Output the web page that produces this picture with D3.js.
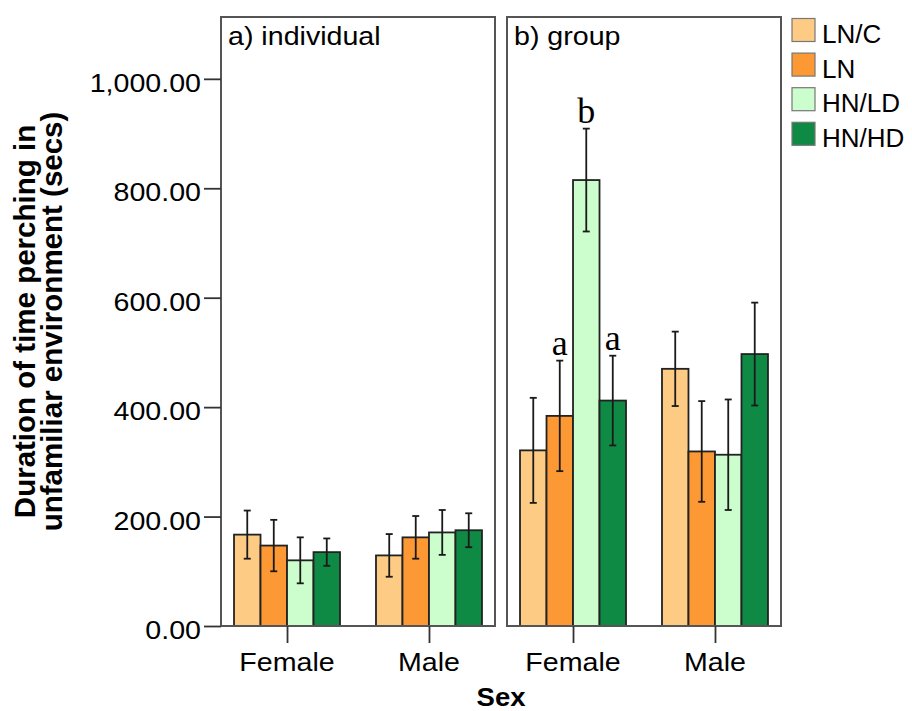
<!DOCTYPE html>
<html>
<head>
<meta charset="utf-8">
<script src="https://cdn.jsdelivr.net/npm/d3@7"></script>
<style>
  html, body { margin: 0; padding: 0; background: #fff; }
  svg { display: block; }
</style>
</head>
<body>
<svg id="chart" width="912" height="711"></svg>
<script>
// ---- data ----
const panels = ["a) individual", "b) group"];
const sexes = ["Female", "Male"];
const treatments = ["LN/C", "LN", "HN/LD", "HN/HD"];
const colors = ["#FECB84", "#FD9935", "#CCFDCC", "#0F8A45"];
const yTicks = [0, 200, 400, 600, 800, 1000];

// mean duration per panel -> sex -> treatment
const individualMeans = [[167, 147, 120, 135], [129, 162, 171, 175]];
const individualErr   = [[44, 47, 42, 25], [39, 39, 41, 31]];
const groupMeans      = [[321, 384, 815, 412], [470, 319, 313, 497]];
const groupErr        = [[96, 101, 94, 82], [68, 92, 101, 94]];

// significance letters (group panel, female)
const letters = [
  { panel: 1, sex: 0, treatment: 1, label: "a" },
  { panel: 1, sex: 0, treatment: 2, label: "b" },
  { panel: 1, sex: 0, treatment: 3, label: "a" }
];

const means = [individualMeans, groupMeans];
const errs = [individualErr, groupErr];

// ---- layout ----
const svg = d3.select("#chart");
const FONT = "'Liberation Sans', Arial, Helvetica, sans-serif";
const SERIF = "'Liberation Serif', 'Times New Roman', serif";
const panelX = [[221, 495], [507, 781]];
const plotTop = 17, plotBottom = 626;
const tickLen = 17;
const STRETCH = 1.1;

const y = d3.scaleLinear().domain([0, 1113]).range([plotBottom, plotTop]);
const inner = d3.scaleBand().domain(treatments).range([-53, 53]).padding(0);

function sText(g, x, yy, txt, opts) {
  const o = Object.assign({ size: 26, anchor: "start", weight: "normal", stretch: STRETCH }, opts || {});
  return g.append("text")
    .attr("transform", `translate(${x},${yy}) scale(${o.stretch},1)`)
    .attr("text-anchor", o.anchor)
    .attr("font-family", FONT)
    .attr("font-size", o.size)
    .attr("font-weight", o.weight)
    .attr("fill", "#000")
    .text(txt);
}

panels.forEach((title, p) => {
  const [x0, x1] = panelX[p];
  const x = d3.scalePoint().domain(sexes).range([x0, x1]).padding(0.465);
  const g = svg.append("g");

  // bars
  sexes.forEach((sex, si) => {
    treatments.forEach((t, ti) => {
      const v = means[p][si][ti];
      const bx = x(sex) + inner(t);
      g.append("rect")
        .attr("x", bx)
        .attr("y", y(v))
        .attr("width", inner.bandwidth())
        .attr("height", y(0) - y(v))
        .attr("fill", colors[ti])
        .attr("stroke", "#222")
        .attr("stroke-width", 1.8);
    });
  });

  // error bars
  sexes.forEach((sex, si) => {
    treatments.forEach((t, ti) => {
      const v = means[p][si][ti], e = errs[p][si][ti];
      const cx = x(sex) + inner(t) + inner.bandwidth() / 2;
      const eg = g.append("g").attr("stroke", "#1a1a1a").attr("stroke-width", 1.8);
      eg.append("line").attr("x1", cx).attr("x2", cx).attr("y1", y(v + e)).attr("y2", y(v - e));
      eg.append("line").attr("x1", cx - 3.5).attr("x2", cx + 3.5).attr("y1", y(v + e)).attr("y2", y(v + e));
      eg.append("line").attr("x1", cx - 3.5).attr("x2", cx + 3.5).attr("y1", y(v - e)).attr("y2", y(v - e));
    });
  });

  // panel frame
  g.append("rect")
    .attr("x", x0).attr("y", plotTop)
    .attr("width", x1 - x0).attr("height", plotBottom - plotTop)
    .attr("fill", "none").attr("stroke", "#555").attr("stroke-width", 2);

  // x axis ticks + labels
  const xAxis = d3.axisBottom(x).tickSize(tickLen).tickSizeOuter(0).tickFormat("");
  const xa = g.append("g").attr("transform", `translate(0,${plotBottom})`).call(xAxis);
  xa.select(".domain").remove();
  xa.selectAll(".tick line").attr("stroke", "#333").attr("stroke-width", 1.8);
  sexes.forEach(s => sText(g, x(s), 671, s, { anchor: "middle" }));

  // panel title
  sText(g, x0 + 7, 45, title);
});

// significance letters
letters.forEach(d => {
  const x = d3.scalePoint().domain(sexes).range(panelX[d.panel]).padding(0.465);
  const sex = sexes[d.sex], t = treatments[d.treatment];
  const top = means[d.panel][d.sex][d.treatment] + errs[d.panel][d.sex][d.treatment];
  svg.append("text")
    .attr("x", x(sex) + inner(t) + inner.bandwidth() / 2)
    .attr("y", y(top) - 6)
    .attr("text-anchor", "middle")
    .attr("font-family", SERIF)
    .attr("font-size", 36)
    .attr("fill", "#000")
    .text(d.label);
});

// y axis
const yAxis = d3.axisLeft(y).tickValues(yTicks).tickSize(tickLen).tickFormat("");
const ya = svg.append("g").attr("transform", `translate(${panelX[0][0]},0)`).call(yAxis);
ya.select(".domain").remove();
ya.selectAll(".tick line").attr("stroke", "#333").attr("stroke-width", 1.8);
const fmt = d3.format(",.2f");
yTicks.forEach(v => sText(svg, panelX[0][0] - tickLen - 3, y(v) + 13, fmt(v), { anchor: "end" }));

// y axis title (two lines)
const yt = svg.append("text")
  .attr("transform", `translate(35,${(plotTop + plotBottom) / 2}) rotate(-90)`)
  .attr("text-anchor", "middle")
  .attr("font-family", FONT)
  .attr("font-size", 29.5)
  .attr("font-weight", "bold")
  .attr("fill", "#000");
yt.append("tspan").attr("x", 0).attr("dy", 0).text("Duration of time perching in");
yt.append("tspan").attr("x", 0).attr("dy", 27).text("unfamiliar environment (secs)");

// x axis title
sText(svg, (panelX[0][0] + panelX[1][1]) / 2, 706, "Sex", { anchor: "middle", weight: "bold", size: 25 });

// legend
const legend = svg.append("g");
treatments.forEach((t, i) => {
  const cy = 30 + i * 34.6;
  legend.append("rect")
    .attr("x", 792).attr("y", cy - 11.5)
    .attr("width", 23).attr("height", 23)
    .attr("fill", colors[i]).attr("stroke", "#777").attr("stroke-width", 1.2);
  sText(legend, 822, cy + 13, t, { stretch: 1.0 });
});
</script>
</body>
</html>
